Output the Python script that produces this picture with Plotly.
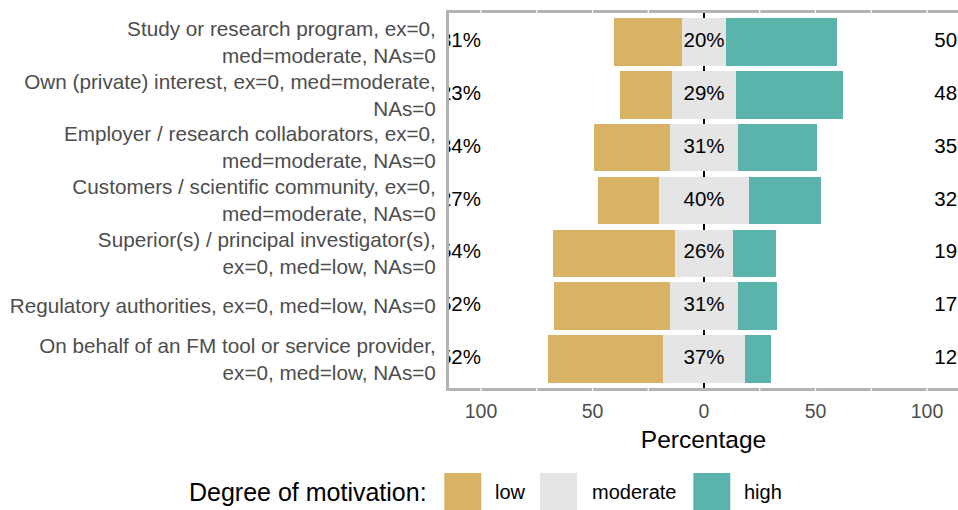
import plotly.graph_objects as go

# ---------------- data ----------------
items = [
    "Study or research program, ex=0,<br>med=moderate, NAs=0",
    "Own (private) interest, ex=0, med=moderate,<br>NAs=0",
    "Employer / research collaborators, ex=0,<br>med=moderate, NAs=0",
    "Customers / scientific community, ex=0,<br>med=moderate, NAs=0",
    "Superior(s) / principal investigator(s),<br>ex=0, med=low, NAs=0",
    "Regulatory authorities, ex=0, med=low, NAs=0",
    "On behalf of an FM tool or service provider,<br>ex=0, med=low, NAs=0",
]
low = [30.6, 23.2, 34.0, 27.4, 54.4, 52.0, 51.6]
moderate = [19.6, 28.8, 30.6, 40.2, 26.2, 30.9, 36.6]
high = [49.8, 48.0, 35.4, 32.4, 19.4, 17.1, 11.8]

levels = ["low", "moderate", "high"]
colors = {"low": "#D8B365", "moderate": "#E5E5E5", "high": "#5AB4AC"}
x_tickvals = [-100, -50, 0, 50, 100]
x_ticktext = ["100", "50", "0", "50", "100"]
grid_vals = [-100, -75, -50, -25, 25, 50, 75, 100]

FONT = "Liberation Sans, Arial, Helvetica, sans-serif"

# ---------------- geometry ----------------
W, H = 958, 510
ML, MR, MT, MB = 449, 0, 13, 122
PW, PH = W - ML - MR, H - MT - MB


def px2x(px):
    return (px - ML) / PW


def px2y(py):
    return (H - MB - py) / PH


fig = go.Figure()

half_mod = [m / 2 for m in moderate]
bases = {
    "low": [-h - l for h, l in zip(half_mod, low)],
    "moderate": [-h for h in half_mod],
    "high": half_mod,
}
values = {"low": low, "moderate": moderate, "high": high}

for lv in levels:
    fig.add_trace(go.Bar(
        y=items, x=values[lv], base=bases[lv], orientation="h",
        name=lv, width=0.9, marker=dict(color=colors[lv], line=dict(width=0)),
        showlegend=False, hoverinfo="skip",
    ))

txtfont = dict(family=FONT, size=20.5, color="black")
fig.add_trace(go.Scatter(
    y=items, x=[-100] * len(items), mode="text",
    text=[f"{round(v)}%" for v in low], textposition="middle left",
    textfont=txtfont, cliponaxis=True, showlegend=False, hoverinfo="skip"))
fig.add_trace(go.Scatter(
    y=items, x=[0] * len(items), mode="text",
    text=[f"{round(v)}%" for v in moderate], textposition="middle center",
    textfont=txtfont, cliponaxis=True, showlegend=False, hoverinfo="skip"))
fig.add_trace(go.Scatter(
    y=items, x=[103.3] * len(items), mode="text",
    text=[f"{round(v)}%" for v in high], textposition="middle right",
    textfont=txtfont, cliponaxis=True, showlegend=False, hoverinfo="skip"))

shapes = []
# white grid marks breaking the panel border
for g in grid_vals:
    for y0, y1 in [(0.995, 1.02), (-0.02, 0.005)]:
        shapes.append(dict(type="line", xref="x", yref="paper", x0=g, x1=g,
                           y0=y0, y1=y1, line=dict(color="white", width=1.2),
                           layer="above"))

# manual legend
key_left = {"low": 444.3, "moderate": 540.0, "high": 693.3}
label_left = {"low": 495.0, "moderate": 591.7, "high": 744.3}
key_w, key_top, key_bot = 37, 473, 511
annotations = [dict(
    text="Degree of motivation:", xref="paper", yref="paper",
    x=px2x(428.8), y=px2y(492), xanchor="right", yanchor="middle",
    showarrow=False, font=dict(family=FONT, size=25, color="black"))]
for lv in levels:
    shapes.append(dict(type="rect", xref="paper", yref="paper",
                       x0=px2x(key_left[lv]), x1=px2x(key_left[lv] + key_w),
                       y0=px2y(key_bot), y1=px2y(key_top),
                       fillcolor=colors[lv], line=dict(width=0), layer="above"))
    annotations.append(dict(
        text=lv, xref="paper", yref="paper", x=px2x(label_left[lv] - 2),
        y=px2y(492), xanchor="left", yanchor="middle", showarrow=False,
        font=dict(family=FONT, size=20, color="black")))

fig.update_layout(
    width=W, height=H,
    margin=dict(l=ML, r=MR, t=MT, b=MB, pad=0),
    plot_bgcolor="white", paper_bgcolor="white",
    barmode="overlay", bargap=0,
    font=dict(family=FONT),
    showlegend=False,
    shapes=shapes, annotations=annotations,
    xaxis=dict(
        range=[(ML - 704) / 2.23, (W - MR - 704) / 2.23],
        tickvals=x_tickvals, ticktext=x_ticktext,
        showgrid=False, zeroline=True, zerolinecolor="black", zerolinewidth=2,
        showline=True, linecolor="#B3B3B3", linewidth=3, mirror=True,
        ticks="outside", ticklen=4, tickcolor="rgba(0,0,0,0)",
        tickfont=dict(family=FONT, size=19.5, color="#4D4D4D"),
        title=dict(text="Percentage", standoff=10,
                   font=dict(family=FONT, size=24.5, color="black")),
        fixedrange=True,
    ),
    yaxis=dict(
        type="category", categoryorder="array", categoryarray=items,
        range=[6.55, -0.55],
        showgrid=False, zeroline=False,
        showline=True, linecolor="#B3B3B3", linewidth=3, mirror=False,
        ticks="outside", ticklen=6, tickcolor="rgba(0,0,0,0)",
        tickfont=dict(family=FONT, size=20.7, color="#4D4D4D"),
        fixedrange=True,
    ),
)

fig.write_html(
    "out.html",
    config={"displayModeBar": False},
    post_script="document.body.style.margin='0px';"
                "document.body.style.overflow='hidden';",
)
